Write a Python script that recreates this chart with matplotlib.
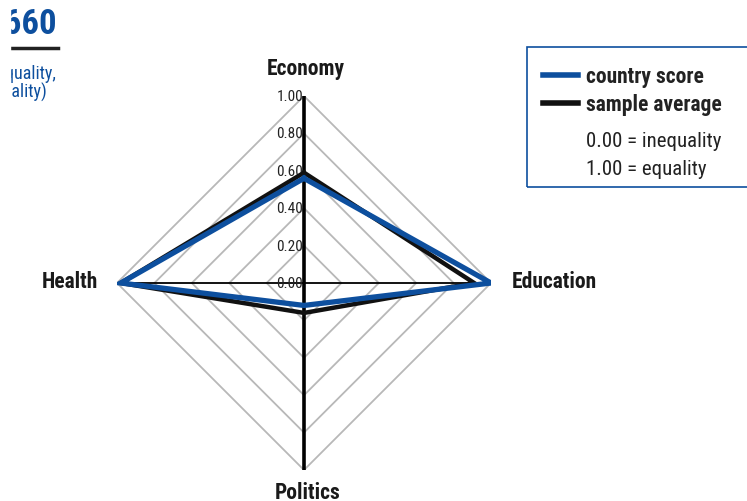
import numpy as np
import matplotlib.pyplot as plt
from matplotlib.patches import Rectangle
from matplotlib.lines import Line2D

plt.rcParams['font.family'] = ['Liberation Sans Narrow', 'DejaVu Sans Condensed', 'Roboto Condensed', 'DejaVu Sans']

# radar data: Economy (up), Education (right), Politics (down), Health (left)
axes_names = ["Economy", "Education", "Politics", "Health"]
country_score = [0.56, 1.00, 0.12, 0.98]
sample_average = [0.59, 0.91, 0.16, 0.98]
rings = [0.2, 0.4, 0.6, 0.8, 1.0]
tick_labels = ["0.00", "0.20", "0.40", "0.60", "0.80", "1.00"]

blue = "#0d4f9e"
dirs = np.array([[0, 1], [1, 0], [0, -1], [-1, 0]])

def to_xy(vals):
    pts = dirs * np.array(vals)[:, None]
    pts = np.vstack([pts, pts[:1]])
    return pts[:, 0], pts[:, 1]

W, H = 747, 502
cx, cy, R = 304, 284, 187
fig = plt.figure(figsize=(W / 100, H / 100), dpi=100)
ax = fig.add_axes([(cx - R) / W, (H - cy - R) / H, 2 * R / W, 2 * R / H])
ax.set_xlim(-1, 1)
ax.set_ylim(-1, 1)
ax.axis("off")

# grid diamonds
for r in rings:
    x, y = to_xy([r] * 4)
    ax.plot(x, y, color="#b8b8b8", lw=1.3, zorder=1)

# axes lines
ax.plot([-1, 1], [0, 0], color="black", lw=1.3, zorder=2)
ax.plot([0, 0], [-1, 1], color="black", lw=2.6, zorder=2)

# tick labels
for i, lab in enumerate(tick_labels):
    ax.text(-0.005, i * 0.2, lab, ha="right", va="center", fontsize=11,
            color="#222222", zorder=3)

# data polygons
x, y = to_xy(sample_average)
ax.plot(x, y, color="#111111", lw=3.2, zorder=4, solid_joinstyle="miter")
x, y = to_xy(country_score)
ax.plot(x, y, color=blue, lw=3.8, zorder=5, solid_joinstyle="miter")

# category labels
lab_kw = dict(fontsize=15.5, fontweight="bold", color="#1a1a1a", clip_on=False)
ax.text(0.01, 1.09, axes_names[0], ha="center", va="bottom", **lab_kw)
ax.text(1.11, 0.01, axes_names[1], ha="left", va="center", **lab_kw)
ax.text(0.02, -1.06, axes_names[2], ha="center", va="top", **lab_kw)
ax.text(-1.1, 0.01, axes_names[3], ha="right", va="center", **lab_kw)

# legend box
fig.patches.append(Rectangle((527 / W, 1 - 188 / H), 230 / W, 140 / H, transform=fig.transFigure,
                             fill=False, edgecolor=blue, lw=1.2))
fig.lines.append(Line2D([543 / W, 578 / W], [1 - 76 / H] * 2, transform=fig.transFigure, color=blue, lw=4))
fig.lines.append(Line2D([543 / W, 578 / W], [1 - 104 / H] * 2, transform=fig.transFigure, color="#111111", lw=4))
fig.text(586 / W, 1 - 77 / H, "country score", ha="left", va="center", fontsize=15.5, fontweight="bold", color="#222222")
fig.text(586 / W, 1 - 105 / H, "sample average", ha="left", va="center", fontsize=15.5, fontweight="bold", color="#222222")
fig.text(586 / W, 1 - 142 / H, "0.00 = inequality", ha="left", va="center", fontsize=15, color="#222222")
fig.text(586 / W, 1 - 170 / H, "1.00 = equality", ha="left", va="center", fontsize=15, color="#222222")

# cropped header on the left
fig.text(57 / W, 1 - 25 / H, "0.660", ha="right", va="center", fontsize=25, fontweight="bold", color=blue)
fig.lines.append(Line2D([10 / W, 58 / W], [1 - 49 / H] * 2, transform=fig.transFigure, color="#222222", lw=2.5))
fig.text(56 / W, 1 - 74 / H, "(0.00 = inequality,", ha="right", va="center", fontsize=13, color=blue)
fig.text(47 / W, 1 - 92 / H, "1.00 = equality)", ha="right", va="center", fontsize=13, color=blue)
fig.patches.append(Rectangle((0, 0), 10 / W, 1, transform=fig.transFigure, color="white", zorder=10))

fig.savefig("out.png", dpi=100)
